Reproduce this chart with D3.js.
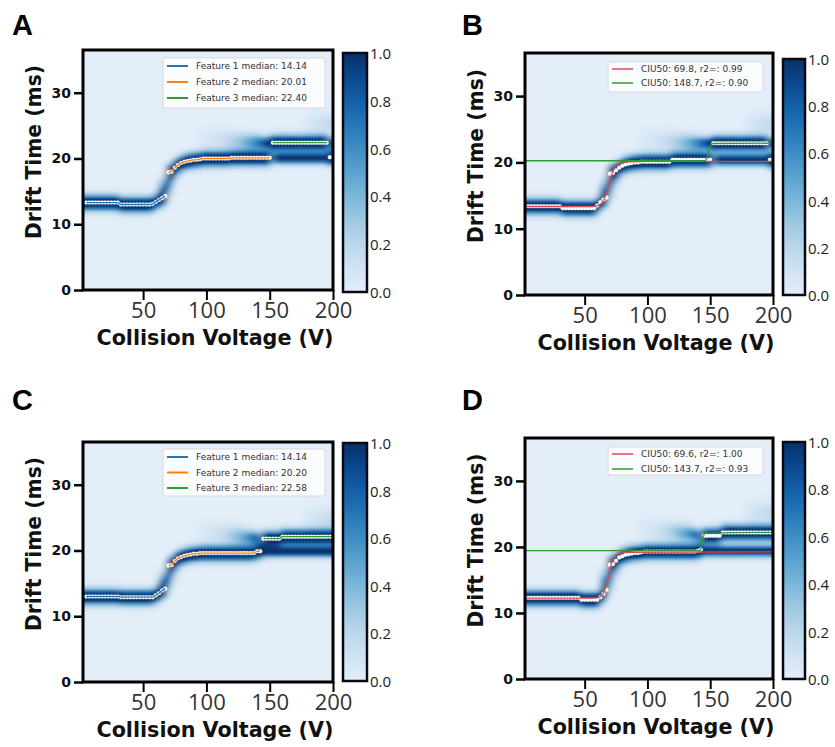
<!DOCTYPE html>
<html><head><meta charset="utf-8">
<script src="https://cdn.jsdelivr.net/npm/d3@7"></script>
<style>body{margin:0;background:#fff} svg{display:block}</style>
</head><body>
<svg id="chart" width="835" height="747"></svg>
<script>
// ---------------- DATA ----------------
const voltages = [5,7.5,10,12.5,15,17.5,20,22.5,25,27.5,30,32.5,35,37.5,40,42.5,45,47.5,50,52.5,55,57.5,60,62.5,65,67.5,70,72.5,75,77.5,80,82.5,85,87.5,90,92.5,95,97.5,100,102.5,105,107.5,110,112.5,115,117.5,120,122.5,125,127.5,130,132.5,135,137.5,140,142.5,145,147.5,150,152.5,155,157.5,160,162.5,165,167.5,170,172.5,175,177.5,180,182.5,185,187.5,190,192.5,195,197.5,200];

const centroidA = [13.3,13.3,13.3,13.3,13.3,13.3,13.3,13.3,13.3,13.3,13.3,
  13.0,13.0,13.0,13.0,13.0,13.0,13.0,13.0,13.0,13.0,
  13.1,13.4,13.7,14.0,14.3,
  17.9,18.0,18.6,19.0,19.3,19.5,19.6,19.7,19.8,19.8,19.9,
  20.0,20.0,20.0,20.0,20.0,20.0,20.0,20.0,20.0,
  20.1,20.1,20.1,20.1,20.1,20.1,20.1,20.1,20.1,20.1,20.1,20.1,20.1,
  22.4,22.4,22.4,22.4,22.4,22.4,22.4,22.4,22.4,22.4,22.4,22.4,22.4,22.4,22.4,22.4,22.4,22.4,
  20.2,20.2];
const centroidB = [13.4,13.4,13.4,13.4,13.4,13.4,13.4,13.4,13.4,13.4,13.4,
  13.1,13.1,13.1,13.1,13.1,13.1,13.1,13.1,13.1,13.1,13.1,
  13.5,14.0,14.4,14.7,
  18.3,18.4,18.8,19.2,19.5,19.7,19.8,19.9,20.0,20.0,20.1,
  20.1,20.1,20.1,20.1,20.1,20.1,20.1,20.1,20.1,
  20.4,20.4,20.4,20.4,20.4,20.4,20.4,20.4,20.4,20.4,20.4,20.4,20.4,
  22.9,22.9,22.9,22.9,22.9,22.9,22.9,22.9,22.9,22.9,22.9,22.9,22.9,22.9,22.9,22.9,22.9,22.9,
  20.4,20.4];
const centroidC = [13.0,13.0,13.0,13.0,13.0,13.0,13.0,13.0,13.0,13.0,13.0,
  12.9,12.9,12.9,12.9,12.9,12.9,12.9,12.9,12.9,12.9,12.9,
  13.2,13.5,13.9,14.2,
  17.7,17.8,18.4,18.8,19.0,19.2,19.3,19.4,19.5,19.5,19.6,
  19.6,19.6,19.6,19.6,19.6,19.6,19.6,19.6,19.6,19.6,19.6,19.6,19.6,19.6,19.6,19.6,19.6,
  19.9,19.9,
  21.8,21.8,21.8,21.8,21.8,21.8,
  22.1,22.1,22.1,22.1,22.1,22.1,22.1,22.1,22.1,22.1,22.1,22.1,22.1,22.1,22.1,22.1,22.1];
const centroidD = [12.3,12.3,12.3,12.3,12.3,12.3,12.3,12.3,12.3,12.3,12.3,12.3,12.3,12.3,12.3,12.3,12.3,
  12.0,12.0,12.0,12.0,12.0,12.0,
  12.4,12.9,13.5,
  17.3,17.4,17.9,18.4,18.6,18.8,18.9,19.0,19.1,19.1,19.2,
  19.3,19.3,19.3,19.3,19.3,19.3,19.3,19.3,19.3,19.3,19.3,19.3,19.3,19.3,19.3,19.3,19.3,
  19.4,19.6,
  21.7,21.7,21.7,21.7,21.7,21.7,
  22.2,22.2,22.2,22.2,22.2,22.2,22.2,22.2,22.2,22.2,22.2,22.2,22.2,22.2,22.2,22.2,22.2];

// extra intensity peaks in the fingerprint: [voltage, drift centre, relative intensity, width]
const extrasA = [[65,15.3,0.6,1.1],[70,16.3,0.8,1.2],[75,17.6,0.3,1.0],
  [95,23.0,0.05,1.3],[100,22.9,0.07,1.3],[105,22.9,0.09,1.3],[110,22.8,0.12,1.2],[115,22.8,0.16,1.2],[120,22.7,0.22,1.1],[125,22.6,0.3,1.0],[130,22.6,0.4,0.95],[135,22.5,0.52,0.9],[140,22.5,0.66,0.8],[145,22.4,0.85,0.7],[150,22.4,1.05,0.65],
  [155,20.1,1.1,0.6],[160,20.1,1.1,0.6],[165,20.1,1.1,0.6],[170,20.1,1.1,0.6],[175,20.1,1.1,0.6],[180,20.1,1.1,0.6],[185,20.1,1.1,0.6],[190,20.1,1.1,0.6],[195,20.1,1.1,0.6],
  [200,22.4,1.1,0.6],
  [180,25.3,0.07,1.2],[185,25.3,0.1,1.2],[190,25.3,0.13,1.2],[195,25.3,0.16,1.2],[200,25.3,0.18,1.2]];
const extrasB = [[65,15.6,0.6,1.1],[70,16.6,0.8,1.2],[75,17.9,0.3,1.0],
  [95,23.4,0.05,1.3],[100,23.3,0.07,1.3],[105,23.3,0.09,1.3],[110,23.2,0.12,1.2],[115,23.2,0.16,1.2],[120,23.1,0.22,1.1],[125,23.1,0.3,1.0],[130,23.0,0.4,0.95],[135,23.0,0.52,0.9],[140,22.9,0.66,0.8],[145,22.9,0.85,0.7],[150,22.9,1.05,0.65],
  [155,20.4,1.1,0.6],[160,20.4,1.1,0.6],[165,20.4,1.1,0.6],[170,20.4,1.1,0.6],[175,20.4,1.1,0.6],[180,20.4,1.1,0.6],[185,20.4,1.1,0.6],[190,20.4,1.1,0.6],[195,20.4,1.1,0.6],
  [200,22.9,1.1,0.6],
  [180,25.9,0.07,1.2],[185,25.9,0.1,1.2],[190,25.9,0.13,1.2],[195,25.9,0.16,1.2],[200,25.9,0.18,1.2]];
const extrasC = [[65,15.0,0.6,1.1],[70,15.9,0.8,1.2],[75,17.2,0.3,1.0],
  [95,22.8,0.05,1.3],[100,22.7,0.07,1.3],[105,22.6,0.1,1.3],[110,22.5,0.14,1.2],[115,22.4,0.2,1.1],[120,22.3,0.28,1.05],[125,22.2,0.38,1.0],[130,22.1,0.5,0.9],[135,22.0,0.65,0.8],[140,21.9,0.85,0.7],
  [145,19.9,1.1,0.6],[150,19.9,1.1,0.6],[155,19.9,1.1,0.6],[160,19.9,1.1,0.6],[165,19.9,1.1,0.6],[170,19.9,1.1,0.6],[175,19.9,1.1,0.6],[180,19.9,1.1,0.6],[185,19.9,1.1,0.6],[190,19.9,1.1,0.6],[195,19.9,1.1,0.6],[200,19.9,1.1,0.6],
  [180,24.8,0.07,1.2],[185,24.8,0.1,1.2],[190,24.8,0.13,1.2],[195,24.8,0.16,1.2],[200,24.8,0.18,1.2]];
const extrasD = [[65,14.6,0.6,1.1],[70,15.5,0.8,1.2],[75,16.8,0.3,1.0],
  [95,22.8,0.05,1.3],[100,22.7,0.07,1.3],[105,22.6,0.1,1.3],[110,22.5,0.14,1.2],[115,22.4,0.2,1.1],[120,22.3,0.28,1.05],[125,22.2,0.38,1.0],[130,22.1,0.5,0.9],[135,22.0,0.65,0.8],[140,21.8,0.85,0.7],
  [145,19.4,1.1,0.6],[150,19.4,1.1,0.6],[155,19.4,1.1,0.6],[160,19.4,1.1,0.6],[165,19.4,1.1,0.6],[170,19.4,1.1,0.6],[175,19.4,1.1,0.6],[180,19.4,1.1,0.6],[185,19.4,1.1,0.6],[190,19.4,1.1,0.6],[195,19.4,1.1,0.6],[200,19.4,1.1,0.6],
  [180,25.2,0.07,1.2],[185,25.2,0.1,1.2],[190,25.2,0.13,1.2],[195,25.2,0.16,1.2],[200,25.2,0.18,1.2]];

// feature voltage ranges (panels A, C)
const featuresA = [[5,67.5],[70,150],[152.5,195]];
const featuresC = [[5,67.5],[70,142.5],[145,200]];
const featureColors = ["#1f77b4","#ff7f0e","#2ca02c"];
const legendA = ["Feature 1 median: 14.14","Feature 2 median: 20.01","Feature 3 median: 22.40"];
const legendC = ["Feature 1 median: 14.14","Feature 2 median: 20.20","Feature 3 median: 22.58"];

// CIU50 fit curves (panels B, D): [voltage, drift time]
const fitRedB = [[2.5,13.35],[56,13.35],[61,13.5],[64.5,14.1],[67,15.1],[69.8,16.9],[72,18.4],[74.5,19.4],[78,19.9],[85,20.1],[100,20.15],[200,20.15]];
const fitGreenB = [[2.5,20.25],[145.5,20.25],[147.3,20.6],[148.7,21.6],[150.2,22.5],[152,22.85],[200,22.9]];
const fitRedD = [[2.5,12.25],[57,12.25],[62,12.4],[65.5,13.2],[68,14.6],[69.6,15.9],[71.2,17.4],[73.5,18.5],[77,19.0],[85,19.2],[200,19.25]];
const fitGreenD = [[2.5,19.45],[141.5,19.45],[142.8,19.8],[143.7,20.8],[144.6,21.7],[146.5,22.1],[200,22.2]];
const fitColors = ["#e0474c","#2e9a36"];
const legendB = ["CIU50: 69.8, r2=: 0.99","CIU50: 148.7, r2=: 0.90"];
const legendD = ["CIU50: 69.6, r2=: 1.00","CIU50: 143.7, r2=: 0.93"];

const xTicks = [50,100,150,200];
const yTicks = [0,10,20,30];
const cbTicks = [0,0.2,0.4,0.6,0.8,1.0];
const xDomain = [2.5,200];
const yDomain = [0,36.5];
const xTitle = "Collision Voltage (V)";
const yTitle = "Drift Time (ms)";

// ---------------- DRAW ----------------
const svg = d3.select("#chart");
const defs = svg.append("defs");
const color = d3.scaleSequential(t => d3.interpolateBlues(0.1 + 0.9 * t)).domain([0,1]).clamp(true);

defs.append("filter").attr("id","soft").attr("filterUnits","userSpaceOnUse")
  .attr("x",0).attr("y",0).attr("width",835).attr("height",747)
  .append("feGaussianBlur").attr("stdDeviation","3 0.9");

const grad = defs.append("linearGradient").attr("id","cbgrad")
  .attr("x1",0).attr("y1",1).attr("x2",0).attr("y2",0);
d3.range(0,1.0001,0.1).forEach(t => grad.append("stop").attr("offset",t).attr("stop-color",color(t)));

const driftBins = d3.range(0, 36.75, 0.25);
const mainAmp = 1.3, mainSigma = 0.78;

const panels = [
  {id:"A", fx0:83, fx1:333, fy0:50, fy1:290, cx0:343, cx1:367, cy0:53, cy1:292, lx:12, ly:35,
   centroid:centroidA, extras:extrasA, type:"feature", ranges:featuresA, legend:legendA,
   leg:{x0:163, x1:325, y0:58, rowY:66, dy:16, h:50}},
  {id:"B", fx0:525, fx1:773, fy0:53, fy1:295, cx0:783, cx1:805, cy0:59, cy1:295, lx:462, ly:35,
   centroid:centroidB, extras:extrasB, type:"fit", fits:[fitRedB, fitGreenB], legend:legendB,
   leg:{x0:608, x1:763, y0:62, rowY:69, dy:14, h:30}},
  {id:"C", fx0:83, fx1:333, fy0:442, fy1:682, cx0:343, cx1:367, cy0:443, cy1:681, lx:12, ly:410,
   centroid:centroidC, extras:extrasC, type:"feature", ranges:featuresC, legend:legendC,
   leg:{x0:163, x1:325, y0:449, rowY:457, dy:15.5, h:47}},
  {id:"D", fx0:525, fx1:773, fy0:438, fy1:679, cx0:783, cx1:805, cy0:442, cy1:679, lx:462, ly:410,
   centroid:centroidD, extras:extrasD, type:"fit", fits:[fitRedD, fitGreenD], legend:legendD,
   leg:{x0:608, x1:763, y0:447, rowY:454, dy:15, h:28}}
];

function fit(sel, w) {
  sel.attr("textLength", w).attr("lengthAdjust","spacingAndGlyphs");
}

panels.forEach(p => {
  const g = svg.append("g");
  const x = d3.scaleLinear().domain(xDomain).range([p.fx0, p.fx1]);
  const y = d3.scaleLinear().domain(yDomain).range([p.fy1, p.fy0]);
  const clipId = "clip" + p.id;
  defs.append("clipPath").attr("id", clipId).append("rect")
    .attr("x", p.fx0).attr("y", p.fy0).attr("width", p.fx1 - p.fx0).attr("height", p.fy1 - p.fy0);

  const hm = g.append("g").attr("clip-path", `url(#${clipId})`);
  hm.append("rect").attr("x", p.fx0).attr("y", p.fy0).attr("width", p.fx1 - p.fx0).attr("height", p.fy1 - p.fy0)
    .attr("fill", color(0));
  const cellsG = hm.append("g").attr("filter","url(#soft)");
  const cells = [];
  const nCols = voltages.length;
  voltages.forEach((v, i) => {
    // main ridge at the centroid; extra peaks weighted by their distance (display smoothing, 5 V span)
    const peaks = [[v, p.centroid[i], mainAmp, mainSigma]];
    p.extras.forEach(e => {
      const w = Math.max(0, 1 - Math.abs(e[0] - v) / 5);
      if (w > 0) peaks.push([e[0], e[1], e[2] * w, e[3]]);
    });
    driftBins.forEach(d => {
      const mid = d + 0.125;
      let val = 0;
      peaks.forEach(pk => { val += pk[2] * Math.exp(-((mid - pk[1]) ** 2) / (2 * pk[3] * pk[3])); });
      if (val > 0.01) cells.push({v, d, val, i});
    });
  });
  const left = c => c.i === 0 ? p.fx0 - 16 : x(c.v - 1.25);
  const right = c => c.i === nCols - 1 ? p.fx1 + 16 : x(c.v + 1.25);
  cellsG.selectAll("rect").data(cells).enter().append("rect")
    .attr("x", left)
    .attr("width", c => right(c) - left(c) + 0.4)
    .attr("y", c => y(c.d + 0.25))
    .attr("height", c => y(c.d) - y(c.d + 0.25) + 0.3)
    .attr("fill", c => color(c.val))
    .attr("shape-rendering","crispEdges");

  // centroid dots
  const pts = voltages.map((v, i) => ({v, dt: p.centroid[i]}));
  hm.selectAll("circle.dot").data(pts).enter().append("circle").attr("class","dot")
    .attr("cx", d => x(d.v)).attr("cy", d => y(d.dt)).attr("r", 2)
    .attr("fill", "#ffffff").attr("stroke","#e8e8e8").attr("stroke-width",0.3);

  const line = d3.line().x(d => x(d.v)).y(d => y(d.dt));
  if (p.type === "feature") {
    p.ranges.forEach((r, k) => {
      const seg = pts.filter(d => d.v >= r[0] && d.v <= r[1]);
      hm.append("path").attr("d", line(seg)).attr("fill","none")
        .attr("stroke", featureColors[k]).attr("stroke-width", 1.3);
    });
  } else {
    const fl = d3.line().x(d => x(d[0])).y(d => y(d[1])).curve(d3.curveMonotoneX);
    p.fits.forEach((f, k) => {
      hm.append("path").attr("d", fl(f)).attr("fill","none")
        .attr("stroke", fitColors[k]).attr("stroke-width", 1.3);
    });
  }

  // frame
  g.append("rect").attr("x", p.fx0).attr("y", p.fy0).attr("width", p.fx1 - p.fx0).attr("height", p.fy1 - p.fy0)
    .attr("fill","none").attr("stroke","#000").attr("stroke-width",3);

  // axes
  const ya = g.append("g").attr("transform", `translate(${p.fx0},0)`)
    .call(d3.axisLeft(y).tickValues(yTicks).tickSize(9).tickPadding(3).tickFormat(d3.format("d")));
  ya.select(".domain").remove();
  ya.selectAll(".tick line").attr("stroke","#000").attr("stroke-width",2.5);
  ya.selectAll(".tick text").attr("font-family","DejaVu Sans").attr("font-weight","bold")
    .attr("font-size",14).attr("fill","#111");
  const xa = g.append("g").attr("transform", `translate(0,${p.fy1})`)
    .call(d3.axisBottom(x).tickValues(xTicks).tickSize(10).tickPadding(2).tickFormat(d3.format("d")));
  xa.select(".domain").remove();
  xa.selectAll(".tick line").attr("stroke","#000").attr("stroke-width",2);
  xa.selectAll(".tick text").attr("font-family","Open Sans").attr("font-size",22).attr("fill","#333");

  // titles
  const xt = g.append("text").attr("x", (p.fx0 + p.fx1) / 2 + 7).attr("y", p.fy1 + 55)
    .attr("text-anchor","middle").attr("font-family","DejaVu Sans").attr("font-weight","bold")
    .attr("font-size",21).attr("fill","#111").text(xTitle);
  fit(xt, 237);
  const ty = (p.fy0 + p.fy1) / 2 - 18, tx = p.fx0 - 42;
  const yt = g.append("text").attr("transform", `translate(${tx},${ty}) rotate(-90)`)
    .attr("text-anchor","middle").attr("font-family","DejaVu Sans").attr("font-weight","bold")
    .attr("font-size",21).attr("fill","#111").text(yTitle);
  fit(yt, 174);

  // panel letter
  g.append("text").attr("x", p.lx).attr("y", p.ly).attr("font-family","Liberation Sans, Arial")
    .attr("font-weight","bold").attr("font-size",29).attr("fill","#000").text(p.id);

  // colorbar
  const cb = d3.scaleLinear().domain([0,1]).range([p.cy1, p.cy0]);
  g.append("rect").attr("x", p.cx0).attr("y", p.cy0).attr("width", p.cx1 - p.cx0).attr("height", p.cy1 - p.cy0)
    .attr("fill","url(#cbgrad)").attr("stroke","#0a0a14").attr("stroke-width",2.5);
  g.selectAll("text.cb").data(cbTicks).enter().append("text").attr("class","cb")
    .attr("x", p.cx1 + 3).attr("y", d => cb(d)).attr("dominant-baseline","central")
    .attr("font-family","Open Sans").attr("font-size",15).attr("fill","#222")
    .text(d => d3.format(".1f")(d));

  // legend
  const L = p.leg;
  g.append("rect").attr("x", L.x0).attr("y", L.y0).attr("width", L.x1 - L.x0).attr("height", L.h)
    .attr("rx",2).attr("fill","#ffffff").attr("fill-opacity",0.82).attr("stroke","#d0d0d0").attr("stroke-width",0.8);
  const cols = p.type === "feature" ? featureColors : fitColors;
  p.legend.forEach((t, k) => {
    const yy = L.rowY + k * L.dy;
    g.append("line").attr("x1", L.x0 + 4).attr("x2", L.x0 + 25).attr("y1", yy).attr("y2", yy)
      .attr("stroke", cols[k]).attr("stroke-width", p.type === "feature" ? 2 : 1.5);
    g.append("text").attr("x", L.x0 + 33).attr("y", yy).attr("dominant-baseline","central")
      .attr("font-family","DejaVu Sans").attr("font-size",9).attr("fill","#333").text(t);
  });
});
</script>
</body></html>
